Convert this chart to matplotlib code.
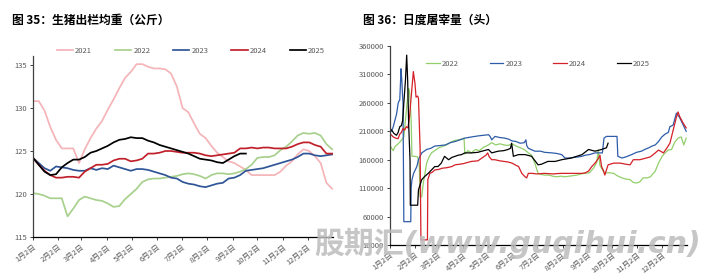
import matplotlib
matplotlib.use("Agg")
import matplotlib.pyplot as plt
import numpy as np

plt.rcParams['font.family'] = ['Noto Sans CJK SC', 'DejaVu Sans']

# ---------------- data: left chart (weekly average slaughter weight, kg) ----------------
w2021 = [130.8, 130.8, 129.7, 127.8, 126.3, 125.3, 125.3, 125.3, 123.6, 125.2, 126.5, 127.6, 128.5,
         129.8, 131.0, 132.3, 133.5, 134.2, 135.1, 135.1, 134.8, 134.6, 134.6, 134.5, 134.0, 132.5,
         130.0, 129.5, 128.2, 127.0, 126.5, 125.6, 124.8, 124.3, 123.8, 123.6, 123.2, 122.8, 122.2,
         122.2, 122.2, 122.2, 122.2, 122.6, 123.3, 123.8, 124.6, 125.2, 125.0, 124.4, 123.6, 121.3, 120.6]
w2022 = [120.1, 120.0, 119.8, 119.5, 119.5, 119.5, 117.4, 118.3, 119.3, 119.7, 119.5, 119.3, 119.2,
         118.9, 118.5, 118.6, 119.4, 120.0, 120.6, 121.4, 121.7, 121.8, 121.8, 121.9, 122.0, 122.1,
         122.3, 122.4, 122.3, 122.1, 121.8, 122.2, 122.4, 122.4, 122.3, 122.4, 122.6, 122.9, 123.4,
         124.2, 124.3, 124.3, 124.5, 125.1, 125.5, 126.1, 126.8, 127.1, 127.0, 127.1, 126.8, 125.8, 125.2]
w2023 = [124.2, 123.6, 123.0, 122.7, 123.2, 123.1, 123.0, 122.8, 122.7, 122.7, 123.0, 122.8, 123.0,
         122.9, 123.3, 123.1, 122.9, 122.7, 122.9, 122.9, 122.8, 122.6, 122.4, 122.2, 121.9, 121.8,
         121.4, 121.2, 121.1, 120.9, 120.8, 121.0, 121.2, 121.3, 121.8, 121.9, 122.2, 122.7, 122.8,
         122.9, 123.0, 123.2, 123.4, 123.6, 123.8, 124.0, 124.3, 124.7, 124.7, 124.5, 124.4, 124.5, 124.6]
w2024 = [124.2, 123.4, 122.7, 122.2, 121.9, 121.9, 122.0, 122.0, 121.9, 122.6, 123.0, 123.4, 123.4,
         123.5, 123.9, 124.1, 124.1, 123.8, 123.9, 124.1, 124.7, 124.7, 124.8, 125.0, 125.0, 124.9,
         124.8, 124.8, 124.8, 124.7, 124.5, 124.4, 124.5, 124.6, 124.7, 124.8, 125.3, 125.3, 125.4,
         125.3, 125.4, 125.4, 125.3, 125.3, 125.3, 125.5, 125.8, 126.0, 126.0, 125.7, 125.5, 124.7, 124.7]
w2025 = [124.2, 123.4, 122.6, 122.2, 122.3, 123.1, 123.6, 124.0, 124.0, 124.3, 124.8, 125.0, 125.3,
         125.6, 126.0, 126.3, 126.4, 126.6, 126.5, 126.5, 126.2, 126.0, 125.7, 125.5, 125.3, 125.1,
         124.9, 124.7, 124.4, 124.1, 124.0, 123.9, 123.7, 123.6, 124.0, 124.4, 124.7, 124.7]

# ---------------- data: right chart (daily slaughter volume, head) ----------------
d2022 = [0, 2, 4, 6, 10, 14, 17, 19, 21, 23, 24, 26, 27, 30, 34, 36, 37, 39, 41, 43, 45, 48, 51, 55, 60,
         64, 68, 72, 76, 80, 84, 88, 91, 92, 96, 100, 105, 110, 115, 121, 125, 130, 135, 140, 145, 150,
         155, 160, 165, 170, 174, 178, 182, 186, 190, 195, 200, 205, 210, 215, 220, 225, 230, 235, 240,
         245, 250, 254, 256, 258, 262, 265, 270, 275, 279, 285, 290, 295, 299, 303, 307, 311, 316, 320,
         326, 330, 334, 338, 342, 346, 350, 354, 358, 361, 364]
v2022 = [185000, 180000, 176000, 183000, 188000, 194000, 200000, 230000, 260000, 285000, 280000, 230000,
         166000, 166000, 165000, 150000, 95000, 95000, 120000, 136000, 154000, 165000, 172000, 176000,
         181000, 183000, 185000, 188000, 192000, 194000, 195000, 196000, 198000, 170000, 176000, 172000,
         178000, 176000, 182000, 186000, 190000, 186000, 188000, 186000, 185000, 188000, 184000, 181000,
         178000, 172000, 168000, 154000, 136000, 134000, 133000, 133000, 131000, 130000, 131000, 130000,
         131000, 132000, 133000, 135000, 136000, 137000, 145000, 155000, 177000, 150000, 140000, 137000,
         137000, 136000, 132000, 128000, 126000, 125000, 120000, 119000, 121000, 128000, 128000, 130000,
         140000, 154000, 165000, 172000, 177000, 178000, 191000, 198000, 200000, 186000, 198000]

d2023 = [0, 2, 4, 6, 8, 10, 11, 12, 13, 13.5, 14.5, 15.5, 16, 17, 20, 24, 25.5, 26, 27, 29, 31, 33, 35,
         39, 45, 50, 55, 62, 68, 74, 80, 86, 92, 100, 109, 115, 121, 123, 125, 129, 135, 141, 146, 150,
         155, 160, 165, 167, 168, 170, 175, 178, 185, 190, 199, 205, 211, 215, 220, 226, 232, 236, 240,
         245, 252, 261, 263, 266, 275, 279, 280, 285, 290, 297, 303, 309, 313, 318, 322, 326, 330, 334,
         338, 342, 344, 348, 352, 354, 356, 359, 362, 364]
v2023 = [212000, 210000, 218000, 229000, 240000, 259000, 263000, 265000, 300000, 320000, 300000, 270000,
         260000, 51000, 51000, 51000, 51000, 110000, 125000, 136000, 142000, 148000, 160000, 172000,
         178000, 180000, 184000, 185000, 186000, 190000, 192000, 195000, 198000, 200000, 202000, 203000,
         204000, 201000, 195000, 201000, 199000, 198000, 196000, 193000, 192000, 189000, 190000, 195000,
         185000, 180000, 177000, 175000, 175000, 173000, 172000, 171000, 169000, 163000, 163000, 164000,
         165000, 166000, 168000, 169000, 172000, 172000, 198000, 201000, 201000, 201000, 166000, 163000,
         165000, 169000, 173000, 175000, 178000, 181000, 184000, 186000, 192000, 200000, 205000, 208000,
         218000, 221000, 242000, 238000, 234000, 225000, 216000, 210000]

d2024 = [0, 2, 4, 7, 10, 12, 14, 16, 18, 20, 22, 24, 26, 28.7, 30.7, 32, 34, 35, 35.6, 37, 38, 41, 45,
         46, 46.5, 49, 52, 55, 60, 64, 70, 76, 80, 90, 100, 108, 113, 118, 120, 122, 125, 129, 135, 140,
         145, 150, 155, 158, 162, 166, 168, 170, 175, 180, 190, 200, 210, 220, 230, 236, 240, 244, 248,
         252, 256, 258, 260, 262, 264, 268, 275, 283, 290, 295, 299, 307, 315, 320, 326, 330, 336, 340,
         344, 348, 352, 354, 356, 360, 364]
v2024 = [206000, 203000, 200000, 198000, 197000, 205000, 208000, 215000, 212000, 218000, 216000, 235000,
         270000, 315000, 294000, 270000, 272000, 268000, 241000, 180000, 19000, 19000, 19000, 19000,
         125000, 136000, 138000, 142000, 143000, 145000, 146000, 148000, 151000, 153000, 157000, 158000,
         163000, 168000, 172000, 165000, 160000, 160000, 158000, 157000, 156000, 154000, 150000, 148000,
         136000, 130000, 128000, 136000, 136000, 135000, 136000, 135000, 136000, 136000, 136000, 136000,
         137000, 140000, 148000, 154000, 162000, 168000, 148000, 142000, 133000, 151000, 154000, 154000,
         152000, 151000, 160000, 160000, 163000, 165000, 172000, 177000, 172000, 180000, 189000, 212000,
         235000, 244000, 236000, 225000, 216000]

d2025 = [0, 2, 5, 8, 10, 12, 14, 15.6, 17, 19, 20.5, 21.7, 23, 24.6, 25, 28, 32, 34, 35, 37, 39, 43, 47,
         51, 55, 59, 63, 67, 72, 76, 80, 84, 88, 92, 100, 108, 113, 121, 125, 133, 140, 145, 148, 149.5,
         151.6, 158, 166, 174, 182, 186, 194, 203, 211, 223, 236, 244, 252, 260, 266, 268]
v2025 = [215000, 212000, 206000, 203000, 208000, 218000, 220000, 229000, 260000, 300000, 344000, 300000,
         220000, 160000, 80000, 80000, 80000, 80000, 107000, 116000, 125000, 131000, 136000, 142000,
         148000, 148000, 154000, 166000, 160000, 164000, 166000, 168000, 169000, 172000, 172000, 173000,
         175000, 178000, 172000, 175000, 176000, 178000, 180000, 189000, 166000, 169000, 169000, 166000,
         151000, 152000, 157000, 157000, 160000, 163000, 169000, 178000, 175000, 178000, 181000, 189000]

tick_days = [0, 31, 59, 90, 120, 151, 181, 212, 243, 273, 304, 334]
tick_labels = ['1月2日', '2月2日', '3月2日', '4月2日', '5月2日', '6月2日',
               '7月2日', '8月2日', '9月2日', '10月2日', '11月2日', '12月2日']

W, H = 716, 277
fig = plt.figure(figsize=(W / 100, H / 100), dpi=100)
fig.patch.set_facecolor('white')

tick_color = '#595959'


def style_axes(ax):
    for s in ['top', 'right']:
        ax.spines[s].set_visible(False)
    ax.spines['left'].set_color('#404040')
    ax.spines['bottom'].set_color('#000000')
    ax.spines['left'].set_linewidth(0.9)
    ax.spines['bottom'].set_linewidth(0.9)
    ax.tick_params(axis='both', direction='out', length=2.5, width=0.7, color='#404040',
                   labelsize=5.5, labelcolor=tick_color, pad=2)
    ax.set_xticks(tick_days)
    ax.set_xticklabels(tick_labels, rotation=38, ha='right', rotation_mode='anchor')
    ax.set_xlim(0, 365)
    ax.set_facecolor('none')


# ---------------- left chart ----------------
axL = fig.add_axes([33 / W, 1 - 237 / H, 300 / W, (237 - 56.4) / H])
style_axes(axL)
colors_L = {'2021': '#F4B4B8', '2022': '#A8D08D', '2023': '#2F5597', '2024': '#C0202A', '2025': '#000000'}
seriesL = [('2021', w2021), ('2022', w2022), ('2023', w2023), ('2024', w2024), ('2025', w2025)]
for name, vals in seriesL:
    x = np.arange(len(vals)) * 7
    axL.plot(x, vals, color=colors_L[name], lw=1.25, label=name, solid_joinstyle='round')
axL.set_ylim(115, 136)
axL.set_yticks([115, 120, 125, 130, 135])
fig.legend(*axL.get_legend_handles_labels(), loc='center', bbox_to_anchor=(191 / W, 1 - 51 / H),
           ncol=5, frameon=False, fontsize=5.5, handlelength=2.1, handletextpad=0.3,
           columnspacing=3.0, labelcolor=tick_color)

# ---------------- right chart ----------------
axR = fig.add_axes([390 / W, 1 - 245 / H, 297 / W, 199 / H])
style_axes(axR)
colors_R = {'2022': '#92CF6A', '2023': '#2E5CA8', '2024': '#D42028', '2025': '#000000'}
seriesR = [('2022', d2022, v2022), ('2023', d2023, v2023), ('2024', d2024, v2024), ('2025', d2025, v2025)]
for name, dd, vv in seriesR:
    axR.plot(dd, vv, color=colors_R[name], lw=0.9, label=name)
axR.set_ylim(10000, 360000)
axR.set_yticks(np.arange(10000, 360001, 50000))
axR.set_yticklabels([str(v) for v in range(10000, 360001, 50000)])
axR.legend(loc='center', bbox_to_anchor=(538 / W, 1 - 64 / H), bbox_transform=fig.transFigure,
           ncol=4, frameon=False, fontsize=5.5, handlelength=1.8, handletextpad=0.3,
           columnspacing=4.0, labelcolor=tick_color)

# ---------------- titles ----------------
fig.text(12 / W, 1 - 20 / H, '图 35：生猪出栏均重（公斤）', fontsize=8.5, fontweight='bold',
         va='center', ha='left', color='#000000')
fig.text(363 / W, 1 - 20 / H, '图 36：日度屠宰量（头）', fontsize=8.5, fontweight='bold',
         va='center', ha='left', color='#000000')

# ---------------- watermark ----------------
fig.text(314 / W, 1 - 243 / H, '股期汇(www.guqihui.cn)', fontsize=21.5, fontweight='bold',
         style='italic', family=['DejaVu Sans', 'Noto Sans CJK SC'], color='#bcbcbc',
         alpha=0.85, va='center', ha='left', zorder=10)

fig.savefig('out.png', dpi=100, facecolor='white')
